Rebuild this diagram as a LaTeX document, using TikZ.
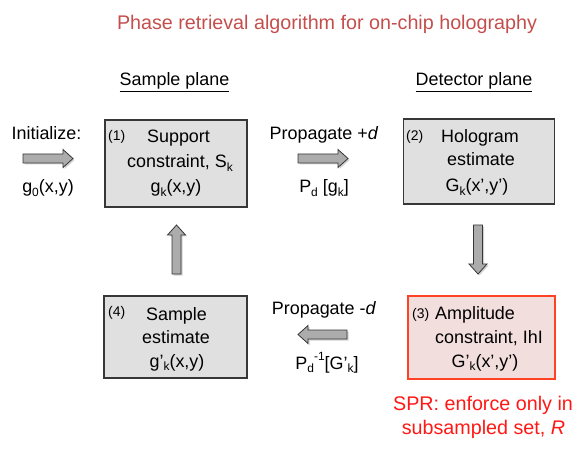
\documentclass[tikz,border=0pt]{standalone}
\usepackage{fontspec}
\setmainfont{Liberation Sans}
\definecolor{titlered}{RGB}{196,78,76}
\definecolor{sprred}{RGB}{255,24,20}
\definecolor{boxgray}{RGB}{224,224,224}
\definecolor{boxedge}{RGB}{55,55,55}
\definecolor{pinkfill}{RGB}{242,222,221}
\definecolor{orangeedge}{RGB}{255,66,36}
\definecolor{arrowfill}{RGB}{172,172,172}
\newcommand\lsub[1]{\raisebox{-0.35ex}{\fontsize{12}{12}\selectfont #1}}
\newcommand\lsup[1]{\raisebox{0.95ex}{\fontsize{12}{12}\selectfont #1}}
\newcommand\ap{\char"27\relax}
\begin{document}
\begin{tikzpicture}[x=1bp,y=-1bp,
  txt/.style={inner sep=0pt, anchor=base, font=\fontsize{18}{21}\selectfont},
  num/.style={inner sep=0pt, anchor=base west, font=\fontsize{14}{16}\selectfont},
  box/.style={draw=boxedge, fill=boxgray, line width=1.3bp, inner sep=0pt},
  redbox/.style={draw=orangeedge, fill=pinkfill, line width=1.3bp, inner sep=0pt},
  barrow/.style={draw=boxedge, fill=arrowfill, line width=0.8bp, line join=miter},
  bshadow/.style={fill=black!18, draw=none}]
\useasboundingbox (0,0) rectangle (581,450);

% title and headings
\node[txt, font=\fontsize{19.8}{22}\selectfont, text=titlered] (title) at (327,30) {Phase retrieval algorithm for on-chip holography};
\node[txt] (sp) at (174.5,86) {\underline{Sample plane}};
\node[txt] (dp) at (474,86) {\underline{Detector plane}};

% boxes
\node[box, minimum width=142bp, minimum height=87bp] (b1) at (176,163.5) {};
\node[box, minimum width=151bp, minimum height=85bp] (b2) at (479,161.5) {};
\node[box, minimum width=143bp, minimum height=82bp] (b4) at (175.5,337) {};
\node[redbox, minimum width=147bp, minimum height=83bp] (b3) at (481.5,337.5) {};

% initialize
\node[txt] (init) at (46.5,140) {Initialize:};
\node[txt] (g0) at (48,193) {g\lsub{0}(x,y)};

% box 1 text
\node[num] (n1) at (108,141) {(1)};
\node[txt] (b1a) at (178.5,143) {Support};
\node[txt] (b1b) at (180,168) {constraint, S\lsub{k}};
\node[txt] (b1c) at (176,193) {g\lsub{k}(x,y)};

% propagate +d
\node[txt] (pp) at (324,140) {Propagate +\textit{d}};
\node[txt] (pd) at (324,193) {P\lsub{d} [g\lsub{k}]};

% box 2 text
\node[num] (n2) at (406,141) {(2)};
\node[txt] (b2a) at (480,143) {Hologram};
\node[txt] (b2b) at (481,166) {estimate};
\node[txt] (b2c) at (477,192) {G\lsub{k}(x\ap,y\ap)};

% box 4 text
\node[num] (n4) at (108,316) {(4)};
\node[txt] (b4a) at (176.5,320) {Sample};
\node[txt] (b4b) at (176,343) {estimate};
\node[txt] (b4c) at (177,367) {g\ap\lsub{k}(x,y)};

% propagate -d
\node[txt] (pm) at (324,314) {Propagate -\textit{d}};
\node[txt] (pdi) at (327,369) {P\lsub{d}\lsup{-1}[G\ap\lsub{k}]};

% box 3 text
\node[num] (n3) at (412,318) {(3)};
\node[txt, anchor=base west] (b3a) at (435,319) {Amplitude};
\node[txt, anchor=base west] (b3b) at (435,343) {constraint, IhI};
\node[txt] (b3c) at (485,367) {G\ap\lsub{k}(x\ap,y\ap)};

% SPR note
\node[txt, font=\fontsize{19.8}{22}\selectfont, text=sprred] (spr1) at (483,410) {SPR: enforce only in};
\node[txt, font=\fontsize{19.8}{22}\selectfont, text=sprred] (spr2) at (483.5,434) {subsampled set, \textit{R}};

% block arrows
\foreach \xa/\xb/\yc [count=\i] in {23/73/158.5, 298/348/158.5} {
  \fill[bshadow] (\xa+1.5,\yc-4.5+1.5) -- (\xb-10+1.5,\yc-4.5+1.5) -- (\xb-10+1.5,\yc-9+1.5) -- (\xb+1.5,\yc+1.5) -- (\xb-10+1.5,\yc+9+1.5) -- (\xb-10+1.5,\yc+4.5+1.5) -- (\xa+1.5,\yc+4.5+1.5) -- cycle;
  \draw[barrow] (\xa,\yc-4.5) -- (\xb-10,\yc-4.5) -- (\xb-10,\yc-9) -- (\xb,\yc) -- (\xb-10,\yc+9) -- (\xb-10,\yc+4.5) -- (\xa,\yc+4.5) -- cycle;
}
% left arrow
\fill[bshadow] (348.5,330+1.5) -- (309.5,330+1.5) -- (309.5,325.5+1.5) -- (299.5,334.5+1.5) -- (309.5,343.5+1.5) -- (309.5,339+1.5) -- (348.5,339+1.5) -- cycle;
\draw[barrow] (347,330) -- (308,330) -- (308,325.5) -- (298,334.5) -- (308,343.5) -- (308,339) -- (347,339) -- cycle;
% up arrow
\fill[bshadow] (173.5,275.5) -- (173.5,236.5) -- (169,236.5) -- (178,226.5) -- (187,236.5) -- (182.5,236.5) -- (182.5,275.5) -- cycle;
\draw[barrow] (172,274) -- (172,235) -- (167.5,235) -- (176.5,225) -- (185.5,235) -- (181,235) -- (181,274) -- cycle;
% down arrow
\fill[bshadow] (475,226.5) -- (475,265.5) -- (470.5,265.5) -- (479.5,275.5) -- (488.5,265.5) -- (484,265.5) -- (484,226.5) -- cycle;
\draw[barrow] (473.5,225) -- (473.5,264) -- (469,264) -- (478,274) -- (487,264) -- (482.5,264) -- (482.5,225) -- cycle;
\end{tikzpicture}
\end{document}
